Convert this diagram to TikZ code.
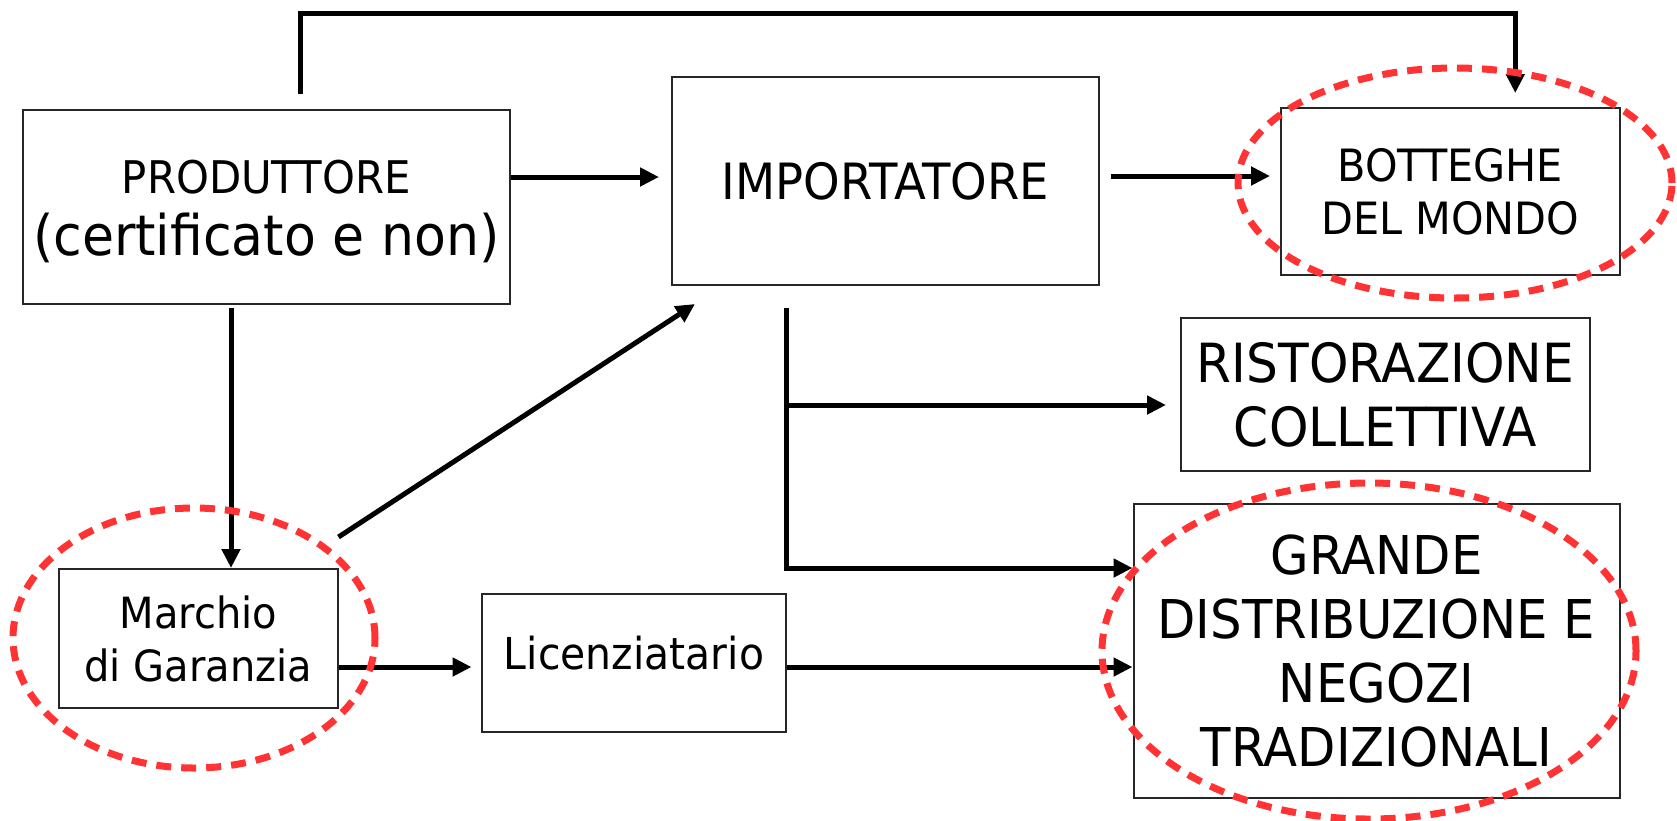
\documentclass[tikz,border=0pt]{standalone}
\usepackage{fontspec}
\setmainfont[FakeStretch=0.93]{DejaVu Sans}
\usetikzlibrary{arrows.meta}
\definecolor{ringred}{HTML}{FF3333}
\begin{document}
\begin{tikzpicture}[x=1pt,y=-1pt,
  box/.style={draw=black!85, line width=2pt, inner sep=0pt, align=center, text=black},
  conn/.style={line width=5pt, line join=miter, -{Triangle[length=19pt,width=18pt]}},
  ring/.style={draw=ringred, line width=7pt, dash pattern=on 15pt off 10pt}]
\useasboundingbox (0,0) rectangle (1677,820);
\fill[white] (0,0) rectangle (1677,820);

% boxes
\node[box, minimum width=486.5pt, minimum height=194pt, font=\fontsize{45}{62}\selectfont] (prod) at (266.25,207)
  {\rule{0pt}{41.5pt}PRODUTTORE\\{\fontsize{56}{62}\selectfont (certificato e non)}};
\node[box, minimum width=427pt, minimum height=208pt, font=\fontsize{50}{60}\selectfont] (imp) at (885.5,181) {IMPORTATORE};
\node[box, minimum width=338.5pt, minimum height=167pt, font=\fontsize{44.5}{53}\selectfont] (bot) at (1450.25,191.5) {BOTTEGHE\\DEL MONDO};
\node[box, minimum width=409pt, minimum height=153pt, font=\fontsize{54}{64}\selectfont] (rist) at (1385.5,394.5) {RISTORAZIONE\\COLLETTIVA};
\node[box, minimum width=278.5pt, minimum height=139pt, font=\fontsize{43}{53}\selectfont] (marchio) at (198.25,638.5) {Marchio\\di Garanzia};
\node[box, minimum width=304pt, minimum height=138pt, font=\fontsize{44}{53}\selectfont, text height=32pt, text depth=20pt] (lic) at (634,663) {Licenziatario};
\node[box, minimum width=486pt, minimum height=294pt, font=\fontsize{53.5}{64}\selectfont] (gde) at (1376.5,651) {GRANDE\\DISTRIBUZIONE E\\NEGOZI\\TRADIZIONALI};

% helper coordinates
\coordinate (a1) at ([yshift=4pt]imp.west);
\coordinate (a2) at ([yshift=15.5pt]bot.west);
\coordinate (t1) at ([xshift=34pt,yshift=15pt]prod.north);
\coordinate (t2) at ([xshift=65pt,yshift=14pt]bot.north);
\coordinate (topy) at (900,13);
\coordinate (xv) at ([xshift=-35.25pt]prod.south);
\coordinate (d1) at ([yshift=31pt]marchio.north east);
\coordinate (d2) at ([xshift=24pt,yshift=-18pt]imp.south west);
\coordinate (tr) at ([xshift=-99.5pt,yshift=-22pt]imp.south);
\coordinate (g1) at ([yshift=83pt]gde.west);
\coordinate (g2) at ([yshift=-16pt]gde.west);
\coordinate (r1) at ([yshift=-10.5pt]rist.west);
\coordinate (l1) at ([yshift=-4pt]lic.west);

% connectors
\draw[conn] (t1) -- (t1 |- topy) -- (t2 |- topy) -- (t2);
\draw[conn, shorten >=12pt] (prod.east |- a1) -- (a1);
\draw[conn, shorten <=11pt, shorten >=10pt] (imp.east |- a2) -- (a2);
\draw[conn, shorten <=3pt] (xv) -- (xv |- marchio.north);
\draw[conn] (d1) -- (d2);
\draw[conn] (tr) |- (g1);
\draw[conn, shorten >=14pt] (tr |- r1) -- (r1);
\draw[conn, shorten >=9.5pt] (marchio.east |- l1) -- (l1);
\draw[conn] (lic.east |- g2) -- (g2);

% red dashed rings
\draw[ring] (1455,183) ellipse [x radius=217pt, y radius=115pt];
\draw[ring] (194,638) ellipse [x radius=181pt, y radius=130pt];
\draw[ring] (1369,651) ellipse [x radius=267pt, y radius=168pt];
\end{tikzpicture}
\end{document}
